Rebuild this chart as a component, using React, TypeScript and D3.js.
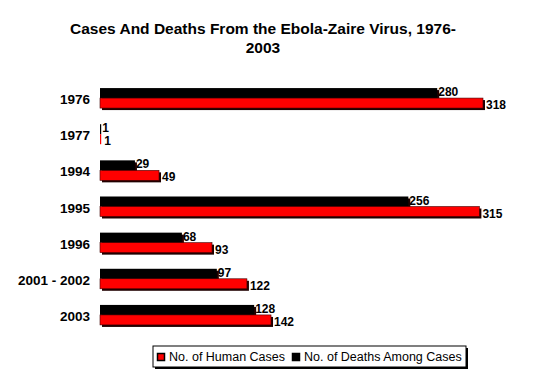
import React from "react";
import * as d3 from "d3";

const categories = ["1976", "1977", "1994", "1995", "1996", "2001 - 2002", "2003"];
const deaths = [280, 1, 29, 256, 68, 97, 128];
const cases = [318, 1, 49, 315, 93, 122, 142];
const titleLines = ["Cases And Deaths From the Ebola-Zaire Virus, 1976-", "2003"];
const legendLabels = ["No. of Human Cases", "No. of Deaths Among Cases"];

const W = 535;
const H = 379;
const font = "Arial, 'Liberation Sans', Helvetica, sans-serif";

export default function App() {
  const x = d3.scaleLinear().domain([0, 318]).range([100, 483]);
  const y = d3.scaleBand<string>().domain(categories).range([81, 334]).paddingInner(0).paddingOuter(0);
  const bh = 10;
  return (
    <svg width={W} height={H} style={{ position: "absolute", left: 0, top: 0, background: "#fff" }}>
      <rect x={0} y={0} width={W} height={H} fill="#fff" />
      {titleLines.map((t, i) => (
        <text key={i} x={263} y={34 + i * 19} textAnchor="middle" fontFamily={font} fontWeight="bold" fontSize={15.5} fill="#000">
          {t}
        </text>
      ))}
      {categories.map((c, i) => {
        const cy = (y(c) as number) + y.bandwidth() / 2;
        const x0 = x(0);
        const xd = x(deaths[i]);
        const xc = x(cases[i]);
        const wd = xd - x0;
        const wc = xc - x0;
        return (
          <g key={c}>
            <text x={90} y={cy + 5} textAnchor="end" fontFamily={font} fontWeight="bold" fontSize={13.5} fill="#000">
              {c}
            </text>
            {wd > 3 && <rect x={x0 + 2} y={cy - 11 + 2} width={wd} height={bh} fill="#200000" />}
            <rect x={x0} y={cy - 11} width={wd} height={bh} fill="#000" />
            {wc > 3 && <rect x={x0 + 2} y={cy - 1 + 2} width={wc} height={bh} fill="#200000" />}
            <rect x={x0} y={cy - 1} width={wc} height={bh} fill="#ff0000" stroke={wc > 3 ? "#400000" : "none"} strokeWidth={0.6} />
            <text x={xd + 1} y={cy - 3} fontFamily={font} fontWeight="bold" fontSize={12} fill="#000">
              {deaths[i]}
            </text>
            <text x={xc + 3} y={cy + 10} fontFamily={font} fontWeight="bold" fontSize={12} fill="#000">
              {cases[i]}
            </text>
          </g>
        );
      })}
      <rect x={155} y={348} width={313} height={21} fill="#000" />
      <rect x={153} y={346} width={313} height={21} fill="#fff" stroke="#000" strokeWidth={1} />
      <rect x={157.5} y={353.5} width={7} height={7} fill="#ff0000" stroke="#000" strokeWidth={1.5} />
      <text x={169} y={361} fontFamily={font} fontSize={12.5} fill="#000">{legendLabels[0]}</text>
      <rect x={292.5} y={353.5} width={7} height={7} fill="#000" stroke="#000" strokeWidth={1.5} />
      <text x={304} y={361} fontFamily={font} fontSize={12.5} fill="#000">{legendLabels[1]}</text>
    </svg>
  );
}
